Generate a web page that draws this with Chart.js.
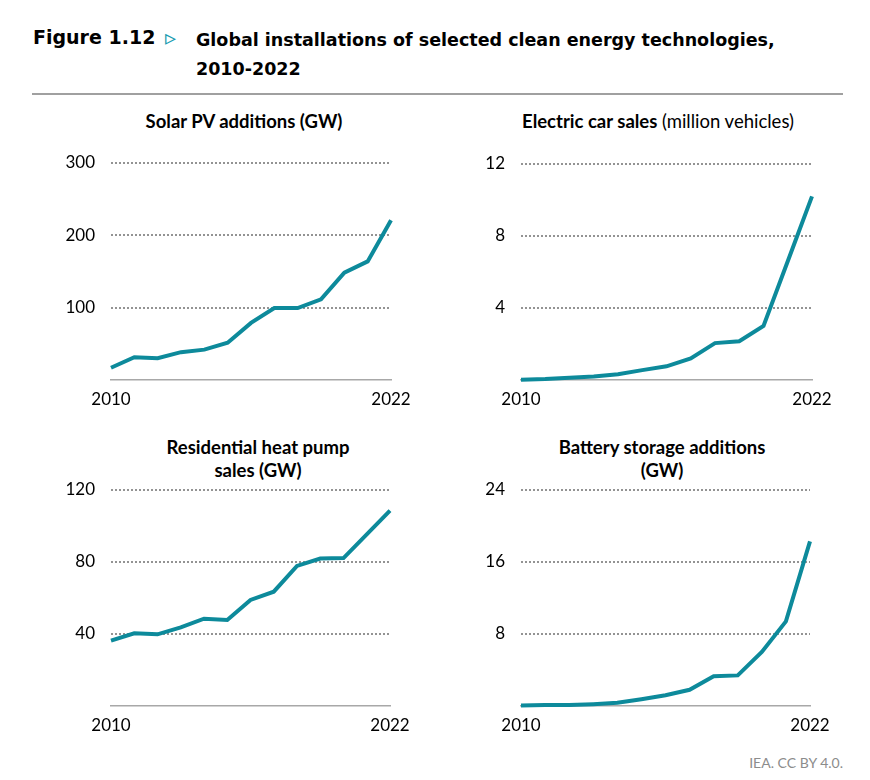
<!DOCTYPE html>
<html>
<head>
<meta charset="utf-8">
<script src="https://cdn.jsdelivr.net/npm/chart.js@4/dist/chart.umd.min.js"></script>
<style>
    body { margin: 0; background: #ffffff; }
    #page { position: relative; width: 870px; height: 780px; overflow: hidden; font-family: Lato, sans-serif; color: #000000; }
    .abs { position: absolute; }
    .fig { left: 33px; top: 26px; font: bold 19px 'DejaVu Sans', sans-serif; color: #000000; }
    .arrow { left: 165px; top: 25px; font: 22px 'DejaVu Sans', sans-serif; color: #1a9cb0; }
    .title { left: 196px; top: 26px; font: bold 17.5px/29px 'DejaVu Sans', sans-serif; color: #000000; }
    .rule { left: 32px; top: 93px; width: 811px; height: 2px; background: #a0a0a0; }
    .sub { font: bold 18.5px/23px Lato, sans-serif; text-align: center; width: 360px; }
    .sub span { font-weight: normal; }
    .source { right: 27px; top: 754px; font: 14px Lato, sans-serif; color: #8c8c8c; }
    canvas { position: absolute; }
</style>
</head>
<body>
<div id="page">
    <div class="abs fig">Figure 1.12</div>
    <div class="abs arrow">▹</div>
    <div class="abs title">Global installations of selected clean energy technologies,<br>2010-2022</div>
    <div class="abs rule"></div>

    <div class="abs sub" style="left:64px; top:110px;">Solar PV additions (GW)</div>
    <div class="abs sub" style="left:478px; top:110px;">Electric car sales <span>(million vehicles)</span></div>
    <div class="abs sub" style="left:78px; top:436px;">Residential heat pump<br>sales (GW)</div>
    <div class="abs sub" style="left:482px; top:436px;">Battery storage additions<br>(GW)</div>

    <canvas id="solarChart"></canvas>
    <canvas id="evChart"></canvas>
    <canvas id="heatPumpChart"></canvas>
    <canvas id="batteryChart"></canvas>

    <div class="abs source">IEA. CC BY 4.0.</div>
</div>

<script>
const years = ['2010', '2011', '2012', '2013', '2014', '2015', '2016', '2017', '2018', '2019', '2020', '2021', '2022']

// Solar PV additions, GW
const solarPv = [17, 31.5, 30, 38.5, 42, 51.5, 79, 99.5, 99.5, 111.5, 148.5, 164, 221]
// Electric car sales, million vehicles
const evSales = [0.02, 0.05, 0.12, 0.2, 0.32, 0.55, 0.76, 1.2, 2.05, 2.15, 3.0, 6.6, 10.2]
// Residential heat pump sales, GW
const heatPump = [36.3, 40.4, 39.8, 43.7, 48.5, 47.8, 58.9, 63.5, 77.8, 81.9, 82.2, 95.4, 108.5]
// Battery storage additions, GW
const battery = [0.05, 0.1, 0.1, 0.2, 0.35, 0.75, 1.2, 1.8, 3.3, 3.4, 6.0, 9.4, 18.3]

// y axis max / step per panel
const solarTicks = { max: 300, step: 100 }
const evTicks = { max: 12, step: 4 }
const heatPumpTicks = { max: 120, step: 40 }
const batteryTicks = { max: 24, step: 8 }

const LINE_COLOR = '#0d8a9b'
const GRID_COLOR = '#939393'
const AXIS_COLOR = '#a8a8a8'
const Y_AXIS_WIDTH = 60
const X_AXIS_HEIGHT = 34
const PAD_TOP = 14
const PAD_RIGHT = 26

/**
 * Position the canvas so the plot area lands on the given box
 * @param {HTMLCanvasElement} canvas
 * @param {{left: number, top: number, right: number, bottom: number}} area
 */
function placeCanvas(canvas, area) {
    const left = area.left - Y_AXIS_WIDTH
    const top = area.top - PAD_TOP
    const width = area.right - left + PAD_RIGHT
    const height = area.bottom - top + X_AXIS_HEIGHT
    canvas.style.left = left + 'px'
    canvas.style.top = top + 'px'
    canvas.style.width = width + 'px'
    canvas.style.height = height + 'px'
    canvas.width = width
    canvas.height = height
}

function makePanel(canvasId, area, values, ticks) {
    const canvas = document.getElementById(canvasId)
    placeCanvas(canvas, area)

    return new Chart(canvas.getContext('2d'), {
        type: 'line',
        data: {
            labels: years,
            datasets: [{
                data: values,
                borderColor: LINE_COLOR,
                borderWidth: 4,
                pointRadius: 0,
                tension: 0,
                clip: false
            }]
        },
        options: {
            responsive: false,
            animation: false,
            layout: {
                padding: { top: PAD_TOP, right: PAD_RIGHT, left: 0, bottom: 0 }
            },
            plugins: {
                legend: { display: false },
                tooltip: { enabled: false }
            },
            scales: {
                x: {
                    offset: false,
                    grid: { display: false, drawTicks: false },
                    border: { display: true, color: AXIS_COLOR, width: 1.5 },
                    ticks: {
                        autoSkip: false,
                        maxRotation: 0,
                        padding: 9,
                        color: '#000000',
                        font: { family: 'Lato', size: 17 },
                        callback: (value, index) => (index === 0 || index === years.length - 1) ? years[index] : ''
                    },
                    afterFit: scale => {
                        scale.height = X_AXIS_HEIGHT
                        scale.paddingLeft = 0
                        scale.paddingRight = 0
                    }
                },
                y: {
                    min: 0,
                    max: ticks.max,
                    grid: {
                        drawTicks: false,
                        lineWidth: 2,
                        color: ctx => (ctx.tick && ctx.tick.value === 0) ? 'rgba(0,0,0,0)' : GRID_COLOR
                    },
                    border: { display: false, dash: [2, 2] },
                    ticks: {
                        stepSize: ticks.step,
                        padding: 16,
                        color: '#000000',
                        font: { family: 'Lato', size: 17 },
                        callback: value => value === 0 ? '' : value
                    },
                    afterFit: scale => {
                        scale.width = Y_AXIS_WIDTH
                        scale.paddingTop = 0
                        scale.paddingBottom = 0
                    }
                }
            }
        }
    })
}

makePanel('solarChart', { left: 111, top: 163, right: 391, bottom: 380 }, solarPv, solarTicks)
makePanel('evChart', { left: 521, top: 164, right: 812, bottom: 380 }, evSales, evTicks)
makePanel('heatPumpChart', { left: 111, top: 490, right: 390, bottom: 706 }, heatPump, heatPumpTicks)
makePanel('batteryChart', { left: 521, top: 490, right: 810, bottom: 706 }, battery, batteryTicks)
</script>
</body>
</html>
